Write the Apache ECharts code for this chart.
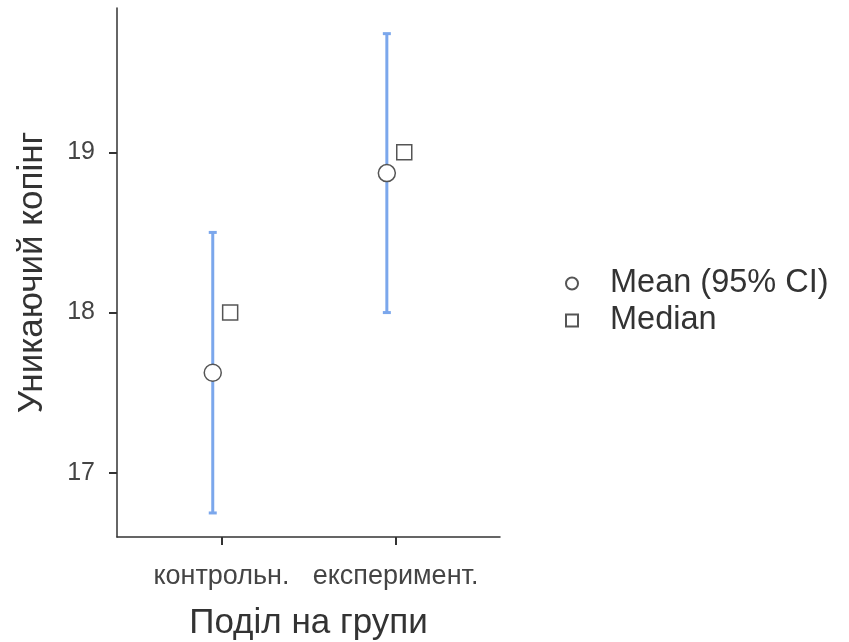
<!DOCTYPE html>
<html>
<head>
<meta charset="utf-8">
<script src="https://cdn.jsdelivr.net/npm/echarts@6/dist/echarts.min.js"></script>
<style>
  html, body { margin: 0; padding: 0; background: #fff; }
  #chart { width: 849px; height: 642px; }
</style>
</head>
<body>
<div id="chart"></div>
<script>
// Group names and descriptive statistics
const groups = ['контрольн.', 'експеримент.'];
const groupPos = [1, 2];
const means = [17.625, 18.87];
const ciLower = [16.75, 18.0];
const ciUpper = [18.5, 19.74];
const medians = [18, 19];
const yTicks = [17, 18, 19];

const meanShift = -0.05;
const medianShift = 0.05;

const textColor = '#333';
const axisColor = '#333';
const barColor = '#7ba7ec';
const fontFamily = 'Liberation Sans, Arial, sans-serif';

const chart = echarts.init(document.getElementById('chart'));

const errorData = groupPos.map((p, i) => [p + meanShift, ciLower[i], ciUpper[i]]);
const meanData = groupPos.map((p, i) => [p + meanShift, means[i]]);
const medianData = groupPos.map((p, i) => [p + medianShift, medians[i]]);

chart.setOption({
  animation: false,
  textStyle: { fontFamily: fontFamily },
  grid: { left: 117, right: 349, top: 8, bottom: 105, containLabel: false, outerBoundsMode: 'none' },
  legend: {
    orient: 'vertical',
    left: 560,
    top: 262,
    itemWidth: 12,
    itemHeight: 12,
    itemGap: 4,
    textStyle: { fontSize: 32.5, color: textColor, fontFamily: fontFamily, padding: [0, 0, 0, 27] },
    data: [
      { name: 'Mean (95% CI)', icon: 'circle' },
      { name: 'Median', icon: 'rect' }
    ]
  },
  xAxis: {
    type: 'value',
    min: 0.4,
    max: 2.6,
    name: 'Поділ на групи',
    nameLocation: 'middle',
    nameGap: 69,
    nameTextStyle: { fontSize: 35, color: textColor },
    splitLine: { show: false },
    axisLine: { show: true, onZero: false, lineStyle: { color: axisColor, width: 1.5 } },
    axisTick: { show: true, length: 8, customValues: groupPos, lineStyle: { color: axisColor, width: 2 } },
    axisLabel: {
      customValues: groupPos,
      margin: 26,
      fontSize: 27,
      color: '#444',
      formatter: v => groups[groupPos.indexOf(Math.round(v))] || ''
    }
  },
  yAxis: {
    type: 'value',
    min: 16.6,
    max: 19.9,
    name: 'Уникаючий копінг',
    nameLocation: 'middle',
    nameGap: 67,
    nameRotate: 90,
    nameTextStyle: { fontSize: 35, color: textColor },
    splitLine: { show: false },
    axisLine: { show: true, lineStyle: { color: axisColor, width: 1.5 } },
    axisTick: { show: true, length: 8, customValues: yTicks, lineStyle: { color: axisColor, width: 2 } },
    axisLabel: { customValues: yTicks, margin: 22, fontSize: 25, color: '#444' }
  },
  series: [
    {
      name: 'CI',
      type: 'custom',
      data: errorData,
      renderItem: function (params, api) {
        const x = api.value(0);
        const lo = api.coord([x, api.value(1)]);
        const hi = api.coord([x, api.value(2)]);
        const cap = 4;
        const style = { stroke: barColor, lineWidth: 3 };
        return {
          type: 'group',
          children: [
            { type: 'line', shape: { x1: lo[0], y1: lo[1], x2: hi[0], y2: hi[1] }, style: style },
            { type: 'line', shape: { x1: lo[0] - cap, y1: lo[1], x2: lo[0] + cap, y2: lo[1] }, style: style },
            { type: 'line', shape: { x1: hi[0] - cap, y1: hi[1], x2: hi[0] + cap, y2: hi[1] }, style: style }
          ]
        };
      },
      z: 1
    },
    {
      name: 'Mean (95% CI)',
      type: 'scatter',
      data: meanData,
      symbol: 'circle',
      symbolSize: 17,
      itemStyle: { color: '#fff', borderColor: '#555', borderWidth: 1.5, opacity: 1 },
      z: 3
    },
    {
      name: 'Median',
      type: 'scatter',
      data: medianData,
      symbol: 'rect',
      symbolSize: 15,
      itemStyle: { color: '#fff', borderColor: '#555', borderWidth: 1.5, opacity: 1 },
      z: 3
    }
  ]
});
</script>
</body>
</html>
